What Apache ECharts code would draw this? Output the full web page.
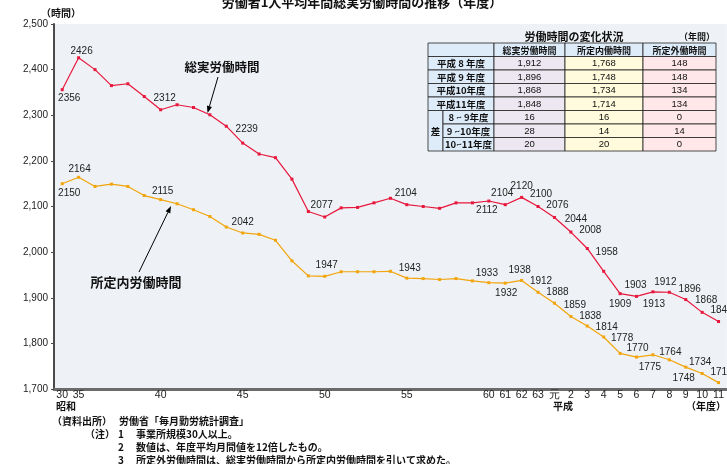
<!DOCTYPE html>
<html>
<head>
<meta charset="utf-8">
<script src="https://cdn.jsdelivr.net/npm/echarts@6/dist/echarts.min.js"></script>
<style>
  html, body { margin: 0; padding: 0; background: #ffffff; }
  #chart { width: 727px; height: 464px; }
</style>
</head>
<body>
<div id="chart"></div>
<script>
// Fiscal years: Showa 30, 35-63, Heisei 元-11
const years = ['30','35','36','37','38','39','40','41','42','43','44','45','46','47','48','49',
  '50','51','52','53','54','55','56','57','58','59','60','61','62','63',
  '元','2','3','4','5','6','7','8','9','10','11'];

// Annual total hours actually worked (総実労働時間)
const totalHours = [2356, 2426, 2400, 2365, 2369, 2341, 2312, 2323, 2317, 2301, 2276, 2239, 2215, 2207, 2160, 2089,
  2077, 2097, 2098, 2108, 2118, 2104, 2100, 2096, 2108, 2108, 2112, 2104, 2120, 2100,
  2076, 2044, 2008, 1958, 1909, 1903, 1913, 1912, 1896, 1868, 1848];

// Annual scheduled hours (所定内労働時間)
const scheduledHours = [2150, 2164, 2144, 2149, 2144, 2124, 2115, 2106, 2093, 2078, 2055, 2042, 2039, 2026, 1981, 1948,
  1947, 1957, 1957, 1957, 1958, 1943, 1942, 1940, 1942, 1937, 1933, 1932, 1938, 1912,
  1888, 1859, 1838, 1814, 1778, 1770, 1775, 1764, 1748, 1734, 1714];

// Years that carry an axis label
const labelledYears = ['30','35','40','45','50','55','60','61','62','63','元','2','3','4','5','6','7','8','9','10','11'];

// Y axis range
const yMin = 1700, yMax = 2500, yStep = 100;

// Summary table
const tableTitle = '労働時間の変化状況';
const tableUnit = '（年間）';
const tableHeads = ['総実労働時間', '所定内働時間', '所定外働時間'];
const yearRows = ['平成 8 年度', '平成 9 年度', '平成10年度', '平成11年度'];
const yearValues = [
  ['1,912', '1,768', '148'],
  ['1,896', '1,748', '148'],
  ['1,868', '1,734', '134'],
  ['1,848', '1,714', '134']
];
const diffHead = '差';
const diffRows = ['8 ~ 9年度', '9 ~10年度', '10~11年度'];
const diffValues = [
  ['16', '16', '0'],
  ['28', '14', '14'],
  ['20', '20', '0']
];

// Label placement (offset of the label centre from the point, in px)
const totalLabelPos = {
  '30': [7, 9], '35': [3, -7], '40': [4, -12], '45': [4, -14], '50': [-3, -12], '55': [-1, -11],
  '60': [-2, 9], '61': [-3, -11], '62': [0, -11], '63': [3, -12], '元': [3, -12], '2': [5, -13],
  '3': [3, -18], '4': [3, -19], '5': [0, 11], '6': [-1, -11], '7': [1, 12], '8': [-4, -10],
  '9': [4, -10], '10': [4, -12], '11': [3, -11]
};
const scheduledLabelPos = {
  '30': [7, 10], '35': [1, -8], '40': [2, -8], '45': [0, -11], '50': [2, -11], '55': [3, -10],
  '60': [-2, -9], '61': [1, 10], '62': [-2, -10], '63': [3, -11], '元': [3, -11], '2': [4, -11],
  '3': [3, -10], '4': [3, -10], '5': [2, -15], '6': [1, -9], '7': [-3, 12], '8': [1, -8],
  '9': [-2, 11], '10': [-2, -11], '11': [3, -10]
};

const NUM_FONT = "'Liberation Sans', Arial, sans-serif";
const JP_FONT = "'Noto Sans CJK JP', 'Liberation Sans', sans-serif";
const SYMBOL = 3;

function pointData(values, placement) {
  return values.map(function (v, i) {
    const p = placement[years[i]];
    if (!p) return { value: v, label: { show: false } };
    return {
      value: v,
      label: {
        show: true,
        position: [p[0] + SYMBOL / 2, p[1] + SYMBOL / 2],
        align: 'center',
        verticalAlign: 'middle'
      }
    };
  });
}

// Arrow built from a line and a small triangular head at (x2, y2)
function arrow(x1, y1, x2, y2) {
  const ang = Math.atan2(y2 - y1, x2 - x1);
  const len = 7, half = 2.6;
  const bx = x2 - len * Math.cos(ang), by = y2 - len * Math.sin(ang);
  const nx = -Math.sin(ang) * half, ny = Math.cos(ang) * half;
  return [
    { type: 'line', z: 100, shape: { x1: x1, y1: y1, x2: bx, y2: by }, style: { stroke: '#000', lineWidth: 1 } },
    { type: 'polygon', z: 100, shape: { points: [[x2, y2], [bx + nx, by + ny], [bx - nx, by - ny]] }, style: { fill: '#000' } }
  ];
}

function txt(x, y, s, opts) {
  opts = opts || {};
  return {
    type: 'text', z: 100, x: x, y: y,
    style: {
      text: s,
      fill: opts.color || '#111',
      fontSize: opts.size || 10,
      fontWeight: opts.weight || 'normal',
      fontFamily: opts.family || JP_FONT,
      align: opts.align || 'left',
      verticalAlign: opts.valign || 'middle'
    }
  };
}

function cell(x, y, w, h, fill) {
  return {
    type: 'rect', z: 99,
    shape: { x: x, y: y, width: w, height: h },
    style: { fill: fill, stroke: '#222', lineWidth: 0.8 }
  };
}

// Summary table drawn as graphic cells
function buildTable() {
  const out = [];
  const left = 428, top = 43, rowH = 13.5;
  const colX = [494, 565, 643, 716];
  const colFill = ['#ece7f1', '#fffbdc', '#ffe7ea'];
  const headFill = '#deecfa';
  const labelFill = '#deecfa';

  out.push(txt(574, 37, tableTitle, { size: 11, weight: 'bold', align: 'center' }));
  out.push(txt(697, 37, tableUnit, { size: 9, weight: 'bold', align: 'center' }));

  // header row
  out.push(cell(left, top, colX[0] - left, rowH, headFill));
  for (let c = 0; c < 3; c++) {
    out.push(cell(colX[c], top, colX[c + 1] - colX[c], rowH, headFill));
    out.push(txt((colX[c] + colX[c + 1]) / 2, top + rowH / 2 + 0.5, tableHeads[c], { size: 9, weight: 'bold', align: 'center' }));
  }
  // fiscal year rows
  yearRows.forEach(function (name, r) {
    const y = top + rowH * (r + 1);
    out.push(cell(left, y, colX[0] - left, rowH, labelFill));
    out.push(txt((left + colX[0]) / 2, y + rowH / 2 + 0.5, name, { size: 9.5, weight: 'bold', align: 'center' }));
    for (let c = 0; c < 3; c++) {
      out.push(cell(colX[c], y, colX[c + 1] - colX[c], rowH, colFill[c]));
      out.push(txt((colX[c] + colX[c + 1]) / 2, y + rowH / 2 + 0.5, yearValues[r][c], { size: 9.5, align: 'center', family: NUM_FONT }));
    }
  });
  // difference rows
  const dTop = top + rowH * 5;
  const diffX = 443;
  out.push(cell(left, dTop, diffX - left, rowH * 3, labelFill));
  out.push(txt((left + diffX) / 2, dTop + rowH * 1.5 + 0.5, diffHead, { size: 9.5, weight: 'bold', align: 'center' }));
  diffRows.forEach(function (name, r) {
    const y = dTop + rowH * r;
    out.push(cell(diffX, y, colX[0] - diffX, rowH, labelFill));
    out.push(txt((diffX + colX[0]) / 2, y + rowH / 2 + 0.5, name, { size: 9.5, weight: 'bold', align: 'center' }));
    for (let c = 0; c < 3; c++) {
      out.push(cell(colX[c], y, colX[c + 1] - colX[c], rowH, colFill[c]));
      out.push(txt((colX[c] + colX[c + 1]) / 2, y + rowH / 2 + 0.5, diffValues[r][c], { size: 9.5, align: 'center', family: NUM_FONT }));
    }
  });
  return out;
}

const graphics = [].concat(
  [
    txt(362, 9, '労働者1人平均年間総実労働時間の推移（年度）', { size: 13, weight: 'bold', align: 'center', valign: 'bottom' }),
    txt(61, 13, '（時間）', { size: 10, weight: 'bold', align: 'center' }),
    txt(222, 67, '総実労働時間', { size: 12.5, weight: 'bold', align: 'center' }),
    txt(136, 282, '所定内労働時間', { size: 13, weight: 'bold', align: 'center' }),
    txt(56, 406, '昭和', { size: 10, weight: 'bold' }),
    txt(553, 406, '平成', { size: 10, weight: 'bold' }),
    txt(686, 406, '（年度）', { size: 10, weight: 'bold' }),
    txt(52, 421, '（資料出所）', { size: 10, weight: 'bold' }),
    txt(119, 421, '労働省「毎月勤労統計調査」', { size: 10, weight: 'bold' }),
    txt(85, 434, '（注）', { size: 10, weight: 'bold' }),
    txt(118, 434, '1', { size: 10, weight: 'bold' }),
    txt(136, 434, '事業所規模30人以上。', { size: 10, weight: 'bold' }),
    txt(118, 447, '2', { size: 10, weight: 'bold' }),
    txt(136, 447, '数値は、年度平均月間値を12倍したもの。', { size: 10, weight: 'bold' }),
    txt(118, 460, '3', { size: 10, weight: 'bold' }),
    txt(136, 460, '所定外労働時間は、総実労働時間から所定内労働時間を引いて求めた。', { size: 10, weight: 'bold' })
  ],
  arrow(218, 77, 207.5, 113),
  arrow(139, 272, 171, 206),
  buildTable()
);

const chart = echarts.init(document.getElementById('chart'), null, { renderer: 'canvas' });

chart.setOption({
  animation: false,
  backgroundColor: '#ffffff',
  grid: {
    left: 54, right: 0, top: 24, bottom: 75,
    show: true, backgroundColor: '#eef2f6', borderWidth: 0
  },
  xAxis: {
    type: 'category',
    data: years,
    boundaryGap: true,
    axisLine: { show: true, lineStyle: { color: '#6b6b6b', width: 3 } },
    axisTick: { show: false },
    axisLabel: {
      interval: 0,
      margin: 1,
      color: '#222',
      fontSize: 10.5,
      fontFamily: NUM_FONT,
      formatter: function (v) { return labelledYears.indexOf(v) >= 0 ? v : ''; }
    },
    splitLine: { show: false }
  },
  yAxis: {
    type: 'value',
    min: yMin, max: yMax, interval: yStep,
    axisLine: { show: true, lineStyle: { color: '#4a4a4a', width: 2 } },
    axisTick: { show: true, length: 3, lineStyle: { color: '#4a4a4a' } },
    axisLabel: {
      color: '#222', fontSize: 10, fontFamily: NUM_FONT, margin: 6,
      formatter: function (v) { return v.toLocaleString('en-US'); }
    },
    splitLine: { show: false }
  },
  series: [
    {
      name: '総実労働時間',
      type: 'line',
      data: pointData(totalHours, totalLabelPos),
      symbol: 'rect', symbolSize: SYMBOL,
      lineStyle: { color: '#e8173c', width: 1.2 },
      itemStyle: { color: '#e8173c' },
      label: { color: '#222', fontSize: 10, fontFamily: NUM_FONT },
      z: 3
    },
    {
      name: '所定内労働時間',
      type: 'line',
      data: pointData(scheduledHours, scheduledLabelPos),
      symbol: 'rect', symbolSize: SYMBOL,
      lineStyle: { color: '#f2a40a', width: 1.2 },
      itemStyle: { color: '#f2a40a' },
      label: { color: '#222', fontSize: 10, fontFamily: NUM_FONT },
      z: 2
    }
  ],
  graphic: graphics
});
</script>
</body>
</html>
